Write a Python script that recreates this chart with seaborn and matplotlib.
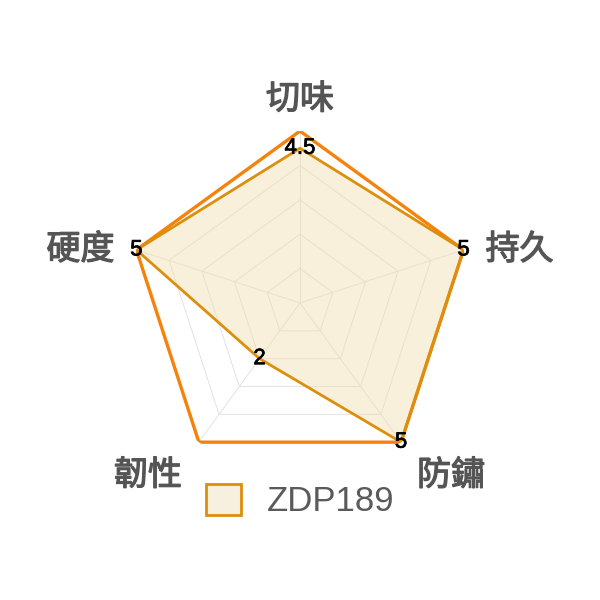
import numpy as np
import matplotlib
matplotlib.use('Agg')
import matplotlib.pyplot as plt
import matplotlib.patheffects as pe
import seaborn as sns
from matplotlib.patches import Patch

# data
axis_labels = ['切味', '持久', '防鏽', '韌性', '硬度']
zdp189 = [4.5, 5, 5, 2, 5]
max_value = 5
series_name = 'ZDP189'

sns.set_theme(style='white')
plt.rcParams['font.family'] = ['Noto Sans CJK TC', 'DejaVu Sans']

n = len(axis_labels)
theta = np.linspace(0, 2 * np.pi, n, endpoint=False)
theta_closed = np.append(theta, theta[0])

fig = plt.figure(figsize=(6, 6), dpi=100)
ax = fig.add_axes([0.2133, 0.2083, 0.5733, 0.5733], projection='polar')
ax.set_theta_offset(np.pi / 2)
ax.set_theta_direction(-1)
ax.set_ylim(0, max_value)
ax.grid(False)
ax.spines['polar'].set_visible(False)
ax.set_xticks([])
ax.set_yticks([])
ax.set_facecolor('none')

# pentagon grid rings and spokes
for r in range(1, max_value):
    ax.plot(theta_closed, [r] * (n + 1), color='#e3e3e3', lw=0.7, zorder=1)
for t in theta:
    ax.plot([t, t], [0, max_value], color='#e3e3e3', lw=0.7, zorder=1)

# outer ring
ax.plot(theta_closed, [max_value] * (n + 1), color='#f5820a', lw=2.4, zorder=3)

# data polygon
vals = np.append(zdp189, zdp189[0])
ax.fill(theta_closed, vals, color='#f0deb0', alpha=0.45, zorder=2)
ax.plot(theta_closed, vals, color='#dc8f0c', lw=2.0, zorder=4)

for t, v in zip(theta, zdp189):
    ax.text(t, v, f'{v:g}', ha='center', va='center', fontsize=16,
            color='black', family=['Liberation Sans'], zorder=5,
            path_effects=[pe.withStroke(linewidth=0.5, foreground='black')])

# axis labels: (index, ha, va, radius, x offset px, y offset px)
label_pos = [
    (0, 'center', 'bottom', 5.0, 0, 14),
    (1, 'left', 'center', 5.0, 22, 0),
    (2, 'left', 'top', 5.0, 16, -16),
    (3, 'right', 'top', 5.0, -17, -16),
    (4, 'right', 'center', 5.0, -22, 0),
]
for i, ha, va, r, dx, dy in label_pos:
    ax.annotate(axis_labels[i], xy=(theta[i], r), xytext=(dx * 0.72, dy * 0.72),
                textcoords='offset points', ha=ha, va=va, fontsize=24.5,
                color='#555555', annotation_clip=False,
                path_effects=[pe.withStroke(linewidth=0.9, foreground='#555555')])

handle = Patch(facecolor='#f8f0de', edgecolor='#dc8f0c', lw=2.0)
fig.legend([handle], [series_name], loc='center', bbox_to_anchor=(0.5, 0.165),
           frameon=False, handlelength=1.0, handleheight=1.0,
           handletextpad=0.75, labelcolor='#5a5a5a',
           prop={'family': ['Liberation Sans'], 'size': 25})

fig.savefig('out.png', dpi=100, facecolor='white')
